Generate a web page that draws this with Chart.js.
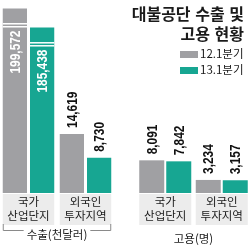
<!DOCTYPE html>
<html><head><meta charset="utf-8">
<script src="https://cdn.jsdelivr.net/npm/chart.js@4"></script>
<style>
body{margin:0;background:#fff;width:250px;height:246px;overflow:hidden;position:relative;font-family:'Noto Sans CJK KR',sans-serif}
#exportChart{position:absolute;left:0;top:0}
#employChart{position:absolute;left:137px;top:0}
#title{position:absolute;right:6px;top:3px;font-weight:bold;font-size:16px;line-height:20px;text-align:right;color:#1a1a1a;word-spacing:1px}
#legend{position:absolute;left:180px;top:46px;font-size:11.5px;color:#1a1a1a}
.row{height:16px;line-height:15px;white-space:nowrap}
.sw{display:inline-block;width:18px;height:7px;margin-right:2px;vertical-align:middle}
</style></head>
<body>
<canvas id="exportChart" width="114" height="246"></canvas>
<canvas id="employChart" width="113" height="246"></canvas>
<div id="title">대불공단 수출 및<br>고용 현황</div>
<div id="legend"></div>
<script>
const categories = [['국가', '산업단지'], ['외국인', '투자지역']];
const seriesNames = ['12.1분기', '13.1분기'];
const seriesColors = ['#a0a0a3', '#17a692'];
const exportQ12 = [199572, 14619];
const exportQ13 = [185438, 8730];
const employQ12 = [8091, 3234];
const employQ13 = [7842, 3157];

// broken axis: everything between BREAK_AT and BREAK_FROM is cut out, the rest squeezed
const BREAK_AT = 30000, BREAK_FROM = 152500, BREAK_SCALE = 1 / 3;
const Y_MAX = 47800;
function squeeze(v) { return v > BREAK_FROM ? BREAK_AT + (v - BREAK_FROM) * BREAK_SCALE : v; }

const barDeco = {
  id: 'barDeco',
  beforeDraw(chart) {
    // grey boxes behind the category names
    const ctx = chart.ctx, a = chart.chartArea;
    const m0 = chart.getDatasetMeta(0), m1 = chart.getDatasetMeta(1);
    ctx.save();
    ctx.fillStyle = '#ececec';
    m0.data.forEach((b, i) => {
      const l = b.x - b.width / 2, r = m1.data[i].x + m1.data[i].width / 2;
      ctx.fillRect(l, a.bottom + 1, r - l, 31);
    });
    ctx.restore();
  },
  afterDatasetsDraw(chart) {
    const ctx = chart.ctx;
    chart.data.datasets.forEach((ds, di) => {
      chart.getDatasetMeta(di).data.forEach((b, i) => {
        const v = ds.values[i], broken = v > BREAK_FROM;
        ctx.save();
        if (broken) {
          ctx.fillStyle = '#fff';
          ctx.fillRect(b.x - b.width / 2, b.y + 14.5, b.width, 1.5);
          ctx.fillRect(b.x - b.width / 2, b.y + 17.5, b.width, 1.5);
        }
        ctx.translate(b.x + 1, broken ? b.y + 22 : b.y - 6);
        ctx.rotate(-Math.PI / 2);
        ctx.scale(0.85, 1);
        ctx.font = 'bold 14px "Liberation Sans"';
        ctx.fillStyle = broken ? '#fff' : '#111';
        ctx.textAlign = broken ? 'right' : 'left';
        ctx.textBaseline = 'middle';
        ctx.fillText(v.toLocaleString('en-US'), 0, 0);
        ctx.restore();
      });
    });
  },
  afterDraw(chart, args, opts) {
    if (!opts.bracket) return;
    const ctx = chart.ctx, a = chart.chartArea;
    const m0 = chart.getDatasetMeta(0), m1 = chart.getDatasetMeta(1);
    const l = m0.data[0].x - m0.data[0].width / 2;
    const last = m1.data[m1.data.length - 1];
    const r = last.x + last.width / 2;
    const cx = (a.left + a.right) / 2, y = 230.5;
    ctx.save();
    ctx.font = '11.5px "Noto Sans CJK KR"';
    const half = ctx.measureText(chart.options.scales.x.title.text).width / 2 + 3;
    ctx.strokeStyle = '#8a8a8a';
    ctx.lineWidth = 1;
    ctx.beginPath();
    ctx.moveTo(l + 0.5, 224); ctx.lineTo(l + 0.5, y); ctx.lineTo(cx - half, y);
    ctx.moveTo(cx + half, y); ctx.lineTo(r - 0.5, y); ctx.lineTo(r - 0.5, 224);
    ctx.stroke();
    ctx.restore();
  }
};

function makeChart(id, q12, q13, axisTitle, barPct, titlePad, bracket) {
  return new Chart(document.getElementById(id), {
    type: 'bar',
    data: {
      labels: categories,
      datasets: [
        { label: seriesNames[0], values: q12, data: q12.map(squeeze), backgroundColor: seriesColors[0] },
        { label: seriesNames[1], values: q13, data: q13.map(squeeze), backgroundColor: seriesColors[1] }
      ]
    },
    options: {
      responsive: false,
      animation: false,
      devicePixelRatio: 1,
      layout: { padding: 0 },
      barPercentage: barPct,
      categoryPercentage: 0.956,
      plugins: { legend: { display: false }, tooltip: { enabled: false }, barDeco: { bracket } },
      scales: {
        y: { display: false, min: 0, max: Y_MAX },
        x: {
          grid: { display: false, drawTicks: false },
          border: { display: false },
          ticks: {
            color: '#1a1a1a', padding: 1, autoSkip: false, maxRotation: 0,
            font: { family: 'Noto Sans CJK KR', size: 11.5, lineHeight: 1.25 }
          },
          title: {
            display: true, text: axisTitle, color: '#1a1a1a',
            font: { family: 'Noto Sans CJK KR', size: 11.5 },
            padding: { top: 0, bottom: titlePad }
          },
          afterFit(s) { s.height = 53; }
        }
      }
    },
    plugins: [barDeco]
  });
}

makeChart('exportChart', exportQ12, exportQ13, '수출(천달러)', 0.89, 4.2, true);
makeChart('employChart', employQ12, employQ13, '고용(명)', 0.926, 0, false);

// legend
const legend = document.getElementById('legend');
seriesNames.forEach((name, i) => {
  const row = document.createElement('div');
  row.className = 'row';
  row.innerHTML = '<span class="sw" style="background:' + seriesColors[i] + '"></span>' + name;
  legend.appendChild(row);
});
</script>
</body></html>
